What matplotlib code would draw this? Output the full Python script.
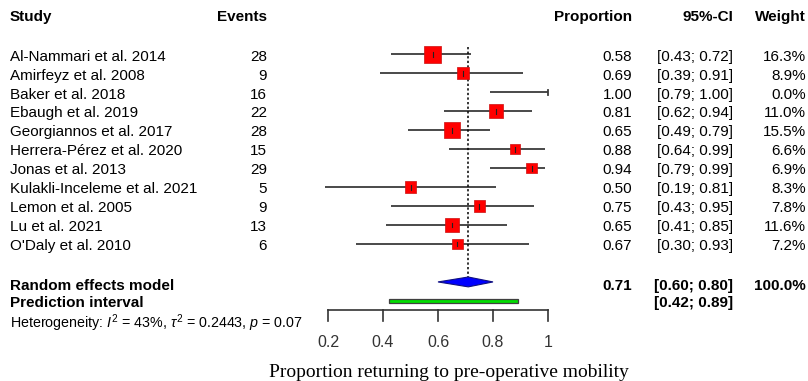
import numpy as np
import matplotlib
matplotlib.use("Agg")
import matplotlib.pyplot as plt
from matplotlib import transforms
from matplotlib.patches import Polygon, Rectangle

plt.rcParams['font.family'] = ['Liberation Sans', 'DejaVu Sans']
plt.rcParams['mathtext.fontset'] = 'custom'
plt.rcParams['mathtext.rm'] = 'Liberation Sans'
plt.rcParams['mathtext.it'] = 'Liberation Sans:italic'
plt.rcParams['mathtext.bf'] = 'Liberation Sans:bold'

# data
studies = ['Al-Nammari et al. 2014', 'Amirfeyz et al. 2008', 'Baker et al. 2018',
           'Ebaugh et al. 2019', 'Georgiannos et al. 2017', 'Herrera-Pérez et al. 2020',
           'Jonas et al. 2013', 'Kulakli-Inceleme et al. 2021', 'Lemon et al. 2005',
           'Lu et al. 2021', "O'Daly et al. 2010"]
events = [28, 9, 16, 22, 28, 15, 29, 5, 9, 13, 6]
prop = [0.58, 0.69, 1.00, 0.81, 0.65, 0.88, 0.94, 0.50, 0.75, 0.65, 0.67]
ci_lo = [0.43, 0.39, 0.79, 0.62, 0.49, 0.64, 0.79, 0.19, 0.43, 0.41, 0.30]
ci_hi = [0.72, 0.91, 1.00, 0.94, 0.79, 0.99, 0.99, 0.81, 0.95, 0.85, 0.93]
weight = [16.3, 8.9, 0.0, 11.0, 15.5, 6.6, 6.9, 8.3, 7.8, 11.6, 7.2]

re_est, re_lo, re_hi = 0.71, 0.60, 0.80
pi_lo, pi_hi = 0.42, 0.89
het_text = r'Heterogeneity: $I^2$ = 43%, $\tau^2$ = 0.2443, $p$ = 0.07'
x_ticks = [0.2, 0.4, 0.6, 0.8, 1.0]
x_ticklabels = ['0.2', '0.4', '0.6', '0.8', '1']
xlabel = 'Proportion returning to pre-operative mobility'

W, H = 808, 381
fig = plt.figure(figsize=(W / 100, H / 100), dpi=100)
fig.patch.set_facecolor('white')

ax = fig.add_axes([328 / W, 0, 220 / W, 1])
row_h = 18.97
y0 = 54.3
ax.set_xlim(0.2, 1.0)
ax.set_ylim((H - y0) / row_h, -y0 / row_h)
ax.axis('off')

rows = np.arange(len(studies))
sum_row = len(studies) + 1
pi_row = sum_row + 1

# study CIs
for r, lo, hi in zip(rows, ci_lo, ci_hi):
    ax.plot([lo, hi], [r, r], color='#3a3a3a', lw=1.3, solid_capstyle='butt', clip_on=False)
    if hi >= 1.0:
        ax.plot([hi, hi], [r - 0.14, r + 0.14], color='#3a3a3a', lw=1.3, clip_on=False)

# weighted boxes
w = np.array(weight)
mask = w > 0
ax.scatter(np.array(prop)[mask], rows[mask], s=8.6 * w[mask], marker='s',
           color='#FF0000', edgecolor='#CC1010', linewidth=0.5, zorder=3, clip_on=False)
for r, p, wt in zip(rows, prop, weight):
    if wt > 0:
        ax.plot([p, p], [r - 0.13, r + 0.13], color='#222222', lw=0.8, zorder=4)

# summary line and diamond
ax.plot([re_est, re_est], [-0.38, sum_row - 0.26], color='black', lw=1.1,
        linestyle=(0, (1.5, 1.5)), zorder=2)
ax.add_patch(Polygon([(re_lo, sum_row), (re_est, sum_row - 0.26),
                      (re_hi, sum_row), (re_est, sum_row + 0.26)],
                     closed=True, facecolor='#0000FF', edgecolor='#101080', lw=0.8, zorder=3))

# prediction interval
ax.add_patch(Rectangle((pi_lo, pi_row - 0.1), pi_hi - pi_lo, 0.2,
                       facecolor='#00DD00', edgecolor='#404040', lw=0.9, zorder=3))

# x axis
axis_y = pi_row + 0.48
ax.plot([x_ticks[0], x_ticks[-1]], [axis_y, axis_y], color='#333333', lw=1.2, clip_on=False)
for t, lab in zip(x_ticks, x_ticklabels):
    ax.plot([t, t], [axis_y, axis_y + 0.56], color='#333333', lw=1.2, clip_on=False)
    ax.text(t, axis_y + 1.69, lab, ha='center', va='center', fontsize=11.5, color='#333333')

# text columns
tr = transforms.blended_transform_factory(fig.transFigure, ax.transData)
x_study, x_events, x_prop, x_ci, x_w = 10 / W, 267 / W, 632 / W, 733 / W, 806 / W
hdr_y = -1.97
for x, s, ha in [(x_study, 'Study', 'left'), (x_events, 'Events', 'right'),
                 (x_prop, 'Proportion', 'right'), (x_ci, '95%-CI', 'right'),
                 (x_w, 'Weight', 'right')]:
    ax.text(x, hdr_y, s, transform=tr, ha=ha, va='center', fontsize=11, fontweight='bold')

for r, st, ev, p, lo, hi, wt in zip(rows, studies, events, prop, ci_lo, ci_hi, weight):
    ty = r + 0.12
    ax.text(x_study, ty, st, transform=tr, ha='left', va='center', fontsize=11)
    ax.text(x_events, ty, str(ev), transform=tr, ha='right', va='center', fontsize=11)
    ax.text(x_prop, ty, f'{p:.2f}', transform=tr, ha='right', va='center', fontsize=11)
    ax.text(x_ci, ty, f'[{lo:.2f}; {hi:.2f}]', transform=tr, ha='right', va='center', fontsize=11)
    ax.text(x_w, ty, f'{wt:.1f}%', transform=tr, ha='right', va='center', fontsize=11)

sy = sum_row + 0.22
ax.text(x_study, sy, 'Random effects model', transform=tr, ha='left', va='center',
        fontsize=11, fontweight='bold')
ax.text(x_prop, sy, f'{re_est:.2f}', transform=tr, ha='right', va='center',
        fontsize=11, fontweight='bold')
ax.text(x_ci, sy, f'[{re_lo:.2f}; {re_hi:.2f}]', transform=tr, ha='right', va='center',
        fontsize=11, fontweight='bold')
ax.text(x_w, sy, '100.0%', transform=tr, ha='right', va='center', fontsize=11, fontweight='bold')
py = pi_row + 0.12
ax.text(x_study, py, 'Prediction interval', transform=tr, ha='left', va='center',
        fontsize=11, fontweight='bold')
ax.text(x_ci, py, f'[{pi_lo:.2f}; {pi_hi:.2f}]', transform=tr, ha='right', va='center',
        fontsize=11, fontweight='bold')
ax.text(x_study, pi_row + 1.17, het_text, transform=tr, ha='left', va='center', fontsize=10.3)

ax.text(449 / W, pi_row + 3.75, xlabel, transform=tr, ha='center', va='center',
        fontsize=14, family='Liberation Serif')

fig.savefig('out.png', dpi=100)
